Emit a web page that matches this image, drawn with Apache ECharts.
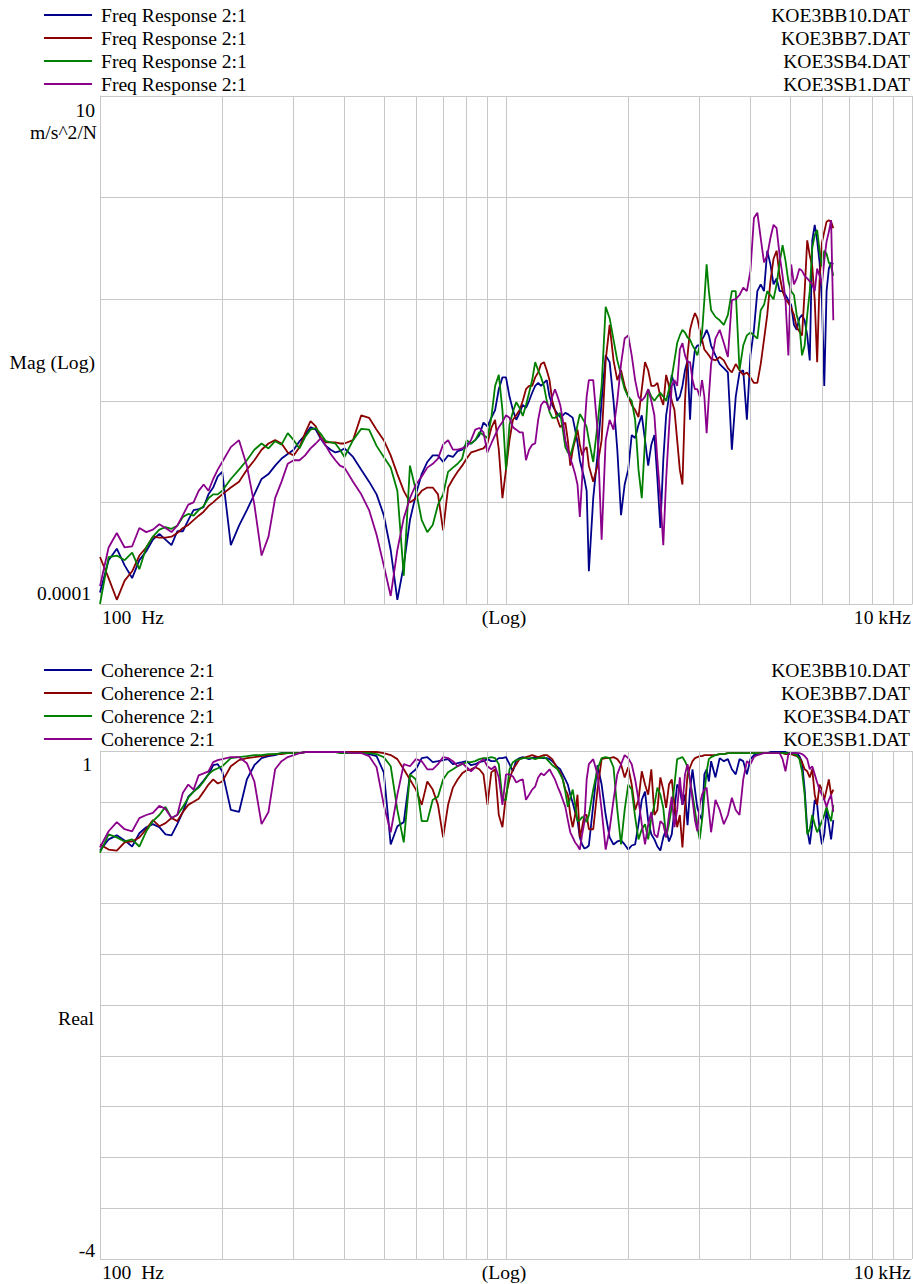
<!DOCTYPE html>
<html><head><meta charset="utf-8">
<script src="https://cdn.jsdelivr.net/npm/echarts@6/dist/echarts.min.js"></script>
<style>html,body{margin:0;padding:0;background:#fff}#c{width:913px;height:1284px}</style>
</head><body><div id="c"></div>
<script>
const freqs = [100,105,110,115,120,125,130,135,140,145,150,155,160,165,170,175,180,185,190,195,
200,210,220,230,240,250,260,270,280,290,300,310,320,330,340,350,360,370,380,390,
400,420,440,460,480,500,520,540,560,580,600,620,640,660,680,700,720,740,760,780,
800,820,840,860,880,900,920,940,960,980,1000,1020,1040,1060,1080,1100,1120,1140,1160,1180,
1200,1220,1240,1260,1280,1300,1320,1340,1360,1380,1400,1420,1440,1460,1480,1500,1520,1540,1560,1580,
1600,1640,1680,1720,1760,1800,1840,1880,1920,1960,2000,2040,2080,2120,2160,2200,2240,2280,2320,2360,
2400,2440,2480,2520,2560,2600,2640,2680,2720,2760,2800,2840,2880,2920,2960,3000,3040,3080,3120,3160,
3200,3280,3360,3440,3520,3600,3680,3760,3840,3920,4000,4080,4160,4240,4320,4400,4480,4560,4640,4720,
4800,4880,4960,5040,5120,5200,5280,5360,5440,5520,5600,5680,5760,5840,5920,6000,6080,6160,6240,6320,
6400];

const magBB10 = [
1.3e-4,2.7e-4,3.5e-4,2.4e-4,1.8e-4,2.7e-4,3.3e-4,4.3e-4,4.9e-4,4.3e-4,
3.8e-4,5.2e-4,5.2e-4,6.7e-4,8.4e-4,8.6e-4,9.0e-4,1.2e-3,1.4e-3,1.8e-3,
2.0e-3,3.8e-4,5.9e-4,8.4e-4,1.2e-3,1.7e-3,1.9e-3,2.3e-3,2.7e-3,3.0e-3,
3.3e-3,4.0e-3,4.6e-3,5.5e-3,5.2e-3,4.2e-3,3.6e-3,3.3e-3,3.1e-3,3.2e-3,
3.4e-3,2.8e-3,2.1e-3,1.6e-3,1.2e-3,7.5e-4,3.4e-4,1.1e-4,2.4e-4,6.7e-4,
1.2e-3,1.9e-3,2.5e-3,2.9e-3,2.9e-3,2.5e-3,2.9e-3,2.8e-3,3.2e-3,3.3e-3,
3.8e-3,3.8e-3,4.1e-3,4.6e-3,6.1e-3,5.6e-3,6.8e-3,8.1e-3,1.3e-2,1.7e-2,
1.7e-2,1.1e-2,8.1e-3,6.5e-3,7.6e-3,9.1e-3,8.5e-3,1.0e-2,1.2e-2,1.4e-2,
1.5e-2,1.4e-2,1.5e-2,1.6e-2,1.1e-2,9.1e-3,8.1e-3,7.4e-3,6.9e-3,7.2e-3,
7.6e-3,7.4e-3,7.1e-3,6.8e-3,5.2e-3,3.9e-3,2.6e-3,2.1e-3,1.7e-3,1.3e-3,
2.1e-4,1.1e-3,2.9e-3,1.0e-2,2.8e-2,2.4e-2,1.0e-2,3.3e-3,7.5e-4,1.5e-3,
2.1e-3,4.6e-3,4.3e-3,5.8e-3,7.2e-3,4.1e-3,2.3e-3,3.7e-3,4.6e-3,1.7e-3,
5.6e-4,2.6e-3,7.2e-3,1.1e-2,1.8e-2,1.4e-2,1.0e-2,1.1e-2,1.4e-2,2.0e-2,
2.5e-2,6.5e-3,2.0e-2,3.2e-2,3.5e-2,3.5e-2,4.0e-2,4.4e-2,5.0e-2,4.4e-2,
3.5e-2,2.8e-2,2.3e-2,2.1e-2,1.9e-2,3.3e-3,1.1e-2,1.9e-2,2.0e-2,6.5e-3,
2.8e-2,5.0e-2,0.12,0.14,0.12,0.30,0.22,0.14,0.16,0.12,
0.12,0.11,9.8e-2,8.8e-2,5.6e-2,5.0e-2,6.5e-2,7.0e-2,6.2e-2,4.4e-2,
2.5e-2,0.38,0.54,0.38,0.23,9.8e-2,1.4e-2,0.12,0.20,0.23,
0.22];

const magBB7 = [
2.9e-4,1.8e-4,1.1e-4,1.7e-4,2.1e-4,3.0e-4,3.6e-4,4.6e-4,4.5e-4,4.5e-4,
4.6e-4,5.0e-4,5.6e-4,6.0e-4,6.7e-4,7.4e-4,8.1e-4,9.2e-4,1.0e-3,1.1e-3,
1.2e-3,1.4e-3,1.6e-3,2.1e-3,2.6e-3,3.3e-3,3.8e-3,4.1e-3,3.8e-3,3.1e-3,
2.9e-3,3.5e-3,4.8e-3,6.3e-3,5.6e-3,4.3e-3,3.9e-3,3.9e-3,3.9e-3,3.8e-3,
3.8e-3,4.1e-3,7.2e-3,6.8e-3,5.2e-3,4.1e-3,2.9e-3,1.9e-3,1.3e-3,1.0e-3,
1.1e-3,1.3e-3,1.4e-3,1.4e-3,1.2e-3,5.3e-4,1.4e-3,1.7e-3,2.0e-3,2.3e-3,
2.7e-3,3.1e-3,3.2e-3,3.3e-3,3.4e-3,3.8e-3,5.4e-3,6.5e-3,3.3e-3,1.1e-3,
2.1e-3,4.1e-3,6.5e-3,7.2e-3,8.1e-3,1.0e-2,1.3e-2,1.4e-2,1.4e-2,1.7e-2,
1.9e-2,2.3e-2,2.4e-2,2.0e-2,1.6e-2,1.0e-2,8.1e-3,6.5e-3,5.5e-3,5.8e-3,
6.1e-3,4.1e-3,2.3e-3,3.3e-3,4.1e-3,5.2e-3,3.7e-3,2.9e-3,3.3e-3,3.5e-3,
2.3e-3,1.6e-3,2.3e-3,4.1e-3,2.5e-2,5.6e-2,2.5e-2,1.6e-2,2.0e-2,1.4e-2,
1.1e-2,9.1e-3,8.1e-3,6.9e-3,1.3e-2,2.4e-2,2.0e-2,1.4e-2,1.4e-2,1.5e-2,
1.1e-2,9.1e-3,1.8e-2,1.4e-2,1.0e-2,8.1e-3,4.1e-3,2.1e-3,1.5e-3,1.0e-2,
2.8e-2,5.0e-2,6.2e-2,7.3e-2,6.5e-2,5.0e-2,4.0e-2,3.2e-2,3.0e-2,2.8e-2,
2.6e-2,2.5e-2,2.7e-2,2.5e-2,2.1e-2,1.9e-2,2.3e-2,2.0e-2,1.8e-2,1.9e-2,
1.7e-2,1.5e-2,1.5e-2,2.3e-2,4.0e-2,7.0e-2,0.15,0.25,0.30,0.17,
0.12,0.10,9.2e-2,8.2e-2,7.0e-2,5.3e-2,4.8e-2,4.4e-2,0.12,0.38,
0.27,0.21,9.8e-2,2.4e-2,0.15,0.36,0.46,0.58,0.60,0.58,
0.50];

const magSB4 = [
1.0e-4,2.9e-4,3.0e-4,2.7e-4,3.2e-4,2.2e-4,3.6e-4,4.6e-4,5.4e-4,5.7e-4,
5.5e-4,5.9e-4,7.2e-4,7.7e-4,7.4e-4,8.4e-4,9.2e-4,1.1e-3,1.2e-3,1.2e-3,
1.3e-3,1.7e-3,2.1e-3,2.6e-3,3.3e-3,3.8e-3,3.4e-3,4.0e-3,3.7e-3,4.8e-3,
4.1e-3,3.4e-3,4.4e-3,5.2e-3,5.4e-3,4.7e-3,4.0e-3,3.9e-3,3.8e-3,3.3e-3,
2.8e-3,4.1e-3,5.3e-3,5.2e-3,3.6e-3,2.8e-3,2.2e-3,1.3e-3,1.9e-4,2.3e-3,
1.3e-3,6.7e-4,5.1e-4,6.0e-4,9.5e-4,1.2e-3,2.0e-3,2.2e-3,2.4e-3,2.7e-3,
4.1e-3,3.8e-3,4.1e-3,4.9e-3,4.6e-3,4.3e-3,6.8e-3,1.4e-2,1.8e-2,8.1e-3,
2.1e-3,5.8e-3,7.8e-3,9.7e-3,8.5e-3,7.1e-3,9.1e-3,1.2e-2,1.6e-2,2.4e-2,
2.0e-2,1.7e-2,1.4e-2,1.0e-2,7.8e-3,6.8e-3,6.8e-3,7.2e-3,7.6e-3,5.2e-3,
3.5e-3,3.1e-3,2.9e-3,3.5e-3,4.4e-3,5.8e-3,7.4e-3,6.8e-3,6.2e-3,5.5e-3,
4.1e-3,2.5e-3,5.8e-3,1.4e-2,8.4e-2,6.5e-2,4.0e-2,2.5e-2,1.8e-2,1.3e-2,
1.1e-2,1.0e-2,6.5e-3,2.1e-3,1.1e-3,4.1e-3,1.3e-2,1.1e-2,1.0e-2,1.1e-2,
1.2e-2,1.1e-2,1.0e-2,1.3e-2,1.7e-2,2.5e-2,3.7e-2,4.4e-2,5.0e-2,4.7e-2,
4.2e-2,4.0e-2,3.5e-2,3.2e-2,2.8e-2,3.5e-2,4.7e-2,9.8e-2,0.22,0.12,
7.8e-2,6.7e-2,6.2e-2,5.6e-2,7.0e-2,0.12,0.12,2.0e-2,3.5e-2,4.4e-2,
4.7e-2,4.4e-2,4.1e-2,7.8e-2,8.8e-2,0.12,0.11,0.10,0.14,0.23,
0.34,0.24,0.15,0.12,0.11,7.0e-2,5.6e-2,2.8e-2,3.5e-2,7.0e-2,
0.12,0.32,0.43,0.48,0.30,0.21,0.30,0.28,0.23,0.21,
0.17];

const magSB1 = [
1.5e-4,3.6e-4,5.0e-4,3.6e-4,3.7e-4,5.6e-4,5.1e-4,5.4e-4,6.1e-4,5.6e-4,
5.1e-4,5.9e-4,7.5e-4,9.5e-4,1.0e-3,1.3e-3,1.5e-3,1.3e-3,1.7e-3,2.1e-3,
2.5e-3,3.5e-3,4.1e-3,2.3e-3,9.5e-4,3.0e-4,4.6e-4,1.1e-3,1.6e-3,2.4e-3,
2.6e-3,2.6e-3,2.9e-3,3.4e-3,3.8e-3,4.3e-3,3.6e-3,3.0e-3,2.6e-3,2.3e-3,
2.2e-3,1.6e-3,1.2e-3,8.4e-4,4.8e-4,2.4e-4,1.2e-4,3.4e-4,7.0e-4,1.1e-3,
1.5e-3,1.8e-3,2.2e-3,2.4e-3,2.7e-3,3.7e-3,4.1e-3,3.3e-3,3.3e-3,3.4e-3,
3.5e-3,4.1e-3,5.2e-3,5.4e-3,4.9e-3,3.1e-3,3.8e-3,4.6e-3,5.5e-3,6.2e-3,
7.2e-3,6.8e-3,5.5e-3,5.2e-3,4.9e-3,4.9e-3,2.6e-3,3.3e-3,3.7e-3,3.8e-3,
6.5e-3,9.1e-3,9.9e-3,9.5e-3,8.1e-3,1.1e-2,1.3e-2,1.1e-2,9.1e-3,6.5e-3,
4.1e-3,3.3e-3,2.7e-3,2.3e-3,1.9e-3,1.5e-3,7.2e-4,1.7e-3,5.2e-3,1.1e-2,
1.6e-2,1.6e-2,5.2e-3,4.3e-4,4.1e-3,6.5e-3,5.2e-3,1.0e-2,2.3e-2,4.1e-2,
4.4e-2,2.8e-2,1.6e-2,1.1e-2,1.0e-2,1.1e-2,1.3e-2,1.0e-2,7.2e-3,2.6e-3,
1.1e-3,3.8e-4,1.7e-3,5.2e-3,1.4e-2,1.6e-2,1.4e-2,3.2e-2,3.7e-2,2.8e-2,
2.4e-2,2.4e-2,1.6e-2,1.3e-2,1.3e-2,1.1e-2,1.6e-2,1.1e-2,4.8e-3,1.1e-2,
2.3e-2,4.1e-2,5.0e-2,3.7e-2,2.7e-2,9.8e-2,0.10,0.11,0.13,0.12,
0.19,0.63,0.71,0.40,0.23,0.27,0.40,0.54,0.50,0.27,
0.17,9.8e-2,2.8e-2,0.22,0.14,0.16,0.20,0.19,0.17,0.16,
0.15,0.14,0.12,0.20,0.17,0.14,0.24,0.37,0.46,0.60,
6.2e-2];

const cohBB10 = [
0.02,0.13,0.17,0.12,0.06,0.19,0.25,0.28,0.25,0.18,
0.17,0.28,0.40,0.55,0.60,0.65,0.71,0.77,0.86,0.87,
0.80,0.42,0.40,0.72,0.86,0.93,0.95,0.96,0.98,0.98,
0.98,0.98,0.99,0.99,0.99,0.99,0.99,0.99,0.99,0.99,
0.99,0.99,0.98,0.97,0.95,0.79,0.08,0.26,0.30,0.77,
0.82,0.93,0.94,0.89,0.90,0.91,0.92,0.87,0.88,0.89,
0.90,0.86,0.87,0.89,0.90,0.92,0.90,0.90,0.93,0.93,
0.94,0.87,0.80,0.91,0.93,0.94,0.93,0.92,0.93,0.94,
0.94,0.93,0.93,0.93,0.92,0.90,0.87,0.84,0.82,0.77,
0.72,0.67,0.57,0.49,0.40,0.32,0.15,0.08,0.04,0.05,
0.07,0.47,0.86,0.67,0.37,0.15,0.08,0.11,0.12,0.08,
0.03,0.07,0.08,0.28,0.52,0.60,0.31,0.18,0.13,0.06,
0.02,0.15,0.23,0.11,0.18,0.42,0.67,0.62,0.47,0.57,
0.27,0.62,0.82,0.62,0.44,0.37,0.32,0.77,0.82,0.70,
0.90,0.74,0.93,0.90,0.92,0.82,0.77,0.92,0.90,0.77,
0.92,0.96,0.97,0.98,0.98,0.98,0.99,0.99,0.99,0.99,
0.99,0.99,0.98,0.98,0.98,0.98,0.95,0.89,0.62,0.23,
0.08,0.28,0.52,0.47,0.23,0.08,0.18,0.42,0.28,0.13,
0.32];

const cohBB7 = [
0.08,0.03,0.02,0.10,0.11,0.15,0.23,0.32,0.26,0.29,
0.34,0.31,0.40,0.47,0.50,0.53,0.60,0.67,0.72,0.68,
0.70,0.85,0.91,0.93,0.94,0.95,0.96,0.97,0.97,0.98,
0.98,0.98,0.99,0.99,0.99,0.99,0.99,0.99,0.99,0.99,
0.99,0.99,0.99,0.99,0.99,0.98,0.96,0.92,0.82,0.72,
0.62,0.47,0.70,0.62,0.47,0.15,0.47,0.64,0.72,0.78,
0.81,0.82,0.84,0.82,0.77,0.47,0.79,0.82,0.37,0.25,
0.57,0.72,0.82,0.87,0.92,0.93,0.94,0.95,0.96,0.95,
0.94,0.95,0.96,0.96,0.94,0.92,0.87,0.82,0.79,0.72,
0.62,0.57,0.37,0.25,0.37,0.57,0.15,0.25,0.37,0.37,
0.23,0.23,0.62,0.92,0.93,0.93,0.94,0.92,0.87,0.74,
0.84,0.67,0.42,0.52,0.80,0.67,0.57,0.82,0.37,0.42,
0.74,0.62,0.44,0.67,0.72,0.47,0.25,0.37,0.05,0.45,
0.77,0.84,0.90,0.93,0.94,0.95,0.95,0.96,0.96,0.96,
0.96,0.96,0.97,0.97,0.98,0.98,0.98,0.98,0.98,0.98,
0.98,0.98,0.98,0.98,0.98,0.98,0.98,0.98,0.98,0.98,
0.98,0.97,0.97,0.97,0.96,0.95,0.93,0.89,0.82,0.80,
0.74,0.82,0.57,0.47,0.67,0.62,0.52,0.62,0.72,0.57,
0.62];

const cohSB4 = [
0.00,0.18,0.15,0.11,0.13,0.06,0.21,0.31,0.37,0.45,
0.34,0.37,0.45,0.54,0.60,0.64,0.70,0.77,0.81,0.83,
0.85,0.93,0.94,0.95,0.96,0.96,0.97,0.97,0.98,0.98,
0.98,0.98,0.99,0.99,0.99,0.99,0.99,0.99,0.99,0.98,
0.98,0.98,0.98,0.98,0.97,0.94,0.85,0.42,0.10,0.77,
0.72,0.31,0.31,0.52,0.55,0.72,0.79,0.82,0.85,0.87,
0.89,0.89,0.90,0.92,0.93,0.93,0.94,0.93,0.87,0.52,
0.52,0.82,0.89,0.91,0.92,0.93,0.93,0.93,0.93,0.92,
0.93,0.93,0.94,0.92,0.89,0.86,0.84,0.82,0.77,0.72,
0.60,0.45,0.54,0.62,0.47,0.31,0.32,0.35,0.34,0.30,
0.37,0.62,0.82,0.93,0.94,0.93,0.84,0.42,0.08,0.42,
0.67,0.62,0.35,0.13,0.23,0.28,0.13,0.34,0.47,0.64,
0.57,0.44,0.15,0.28,0.45,0.67,0.92,0.93,0.94,0.90,
0.84,0.70,0.57,0.42,0.25,0.13,0.32,0.57,0.80,0.92,
0.94,0.96,0.97,0.97,0.98,0.98,0.98,0.98,0.98,0.98,
0.98,0.98,0.98,0.98,0.98,0.98,0.98,0.98,0.98,0.98,
0.98,0.98,0.98,0.98,0.97,0.96,0.92,0.80,0.57,0.18,
0.23,0.37,0.28,0.20,0.25,0.31,0.37,0.45,0.37,0.31,
0.47];

const cohSB1 = [
0.05,0.21,0.30,0.23,0.21,0.34,0.37,0.39,0.46,0.43,
0.34,0.37,0.59,0.67,0.62,0.76,0.78,0.80,0.89,0.91,
0.92,0.94,0.94,0.88,0.70,0.28,0.40,0.82,0.90,0.94,
0.96,0.98,0.99,0.99,0.99,0.99,0.99,0.99,0.99,0.99,
0.99,0.98,0.98,0.95,0.84,0.47,0.20,0.57,0.87,0.85,
0.92,0.90,0.82,0.82,0.87,0.94,0.93,0.90,0.85,0.88,
0.84,0.80,0.84,0.89,0.92,0.85,0.82,0.85,0.74,0.47,
0.77,0.77,0.75,0.69,0.71,0.72,0.52,0.57,0.62,0.65,
0.74,0.78,0.76,0.79,0.82,0.77,0.72,0.65,0.59,0.52,
0.45,0.32,0.20,0.15,0.10,0.07,0.03,0.18,0.30,0.72,
0.87,0.92,0.77,0.42,0.03,0.23,0.52,0.77,0.87,0.96,
0.93,0.87,0.72,0.52,0.28,0.08,0.28,0.40,0.18,0.15,
0.31,0.28,0.15,0.37,0.55,0.25,0.42,0.74,0.47,0.77,
0.87,0.72,0.52,0.32,0.21,0.47,0.57,0.62,0.64,0.42,
0.20,0.52,0.42,0.28,0.37,0.54,0.42,0.37,0.72,0.90,
0.87,0.94,0.96,0.97,0.98,0.98,0.98,0.98,0.98,0.98,
0.92,0.80,0.97,0.98,0.98,0.98,0.98,0.97,0.95,0.92,
0.82,0.85,0.77,0.69,0.62,0.57,0.52,0.45,0.52,0.57,
0.40];

const fileNames = ['KOE3BB10.DAT','KOE3BB7.DAT','KOE3SB4.DAT','KOE3SB1.DAT'];
const topLegendLabel = 'Freq Response 2:1';
const bottomLegendLabel = 'Coherence 2:1';
const minorFreqs = [200,300,400,500,600,700,800,900,2000,3000,4000,5000,6000,7000,8000,9000];
const magMin = 0.0001, magMax = 10;
const cohMin = -4, cohMax = 1, cohStep = 0.5;

const COLORS = ['#00008b','#8b0000','#008000','#8b008b'];
const GRID = '#c8c8c8';
const FONT = '19.6px "Liberation Serif", "Times New Roman", serif';

const chart = echarts.init(document.getElementById('c'), null, {renderer:'svg', width:913, height:1284});

function pairs(vals){ return freqs.map((f,i)=>[f, vals[i]]); }
function dataSeries(name, vals, color, xi){
  return {type:'line', name, xAxisIndex:xi, yAxisIndex:xi, data:pairs(vals),
    symbol:'none', showSymbol:false, clip:true, z:3, silent:true,
    lineStyle:{color, width:1.8}, itemStyle:{color}, emphasis:{disabled:true}};
}
function gridSeries(xi){
  return {type:'line', xAxisIndex:xi, yAxisIndex:xi, data:[], z:1, silent:true,
    markLine:{silent:true, symbol:['none','none'], label:{show:false}, animation:false,
      emphasis:{disabled:true},
      lineStyle:{color:GRID, width:1, type:'solid'},
      data: minorFreqs.map(f=>({xAxis:f}))}};
}
function T(text, x, y, align){
  return {type:'text', x, y, silent:true, z:10,
    style:{text, font:FONT, fill:'#000', textAlign:align||'left', align:align||'left',
      textVerticalAlign:'middle', verticalAlign:'middle'}};
}
function L(y, color){
  return {type:'line', silent:true, z:10, shape:{x1:44,y1:y,x2:92,y2:y}, style:{stroke:color, lineWidth:1.8}};
}

const graphics = [];
const topRows = [15,38,61,84], botRows = [670,693,716,739];
for (let i=0;i<4;i++){
  graphics.push(L(topRows[i], COLORS[i]), T(topLegendLabel, 101, topRows[i]), T(fileNames[i], 910, topRows[i], 'right'));
  graphics.push(L(botRows[i], COLORS[i]), T(bottomLegendLabel, 101, botRows[i]), T(fileNames[i], 910, botRows[i], 'right'));
}
graphics.push(
  T('10', 95, 110, 'right'), T('m/s^2/N', 97, 132, 'right'), T('Mag (Log)', 95, 362, 'right'),
  T('0.0001', 91, 593, 'right'),
  T('100\u00a0\u00a0Hz', 102, 617), T('(Log)', 504, 617, 'center'), T('10 kHz', 911, 617, 'right'),
  T('1', 92, 764, 'right'), T('Real', 94, 1018, 'right'), T('-4', 95, 1250, 'right'),
  T('100\u00a0\u00a0Hz', 102, 1272), T('(Log)', 504, 1272, 'center'), T('10 kHz', 911, 1272, 'right')
);

const axisCommon = {axisTick:{show:false}, axisLabel:{show:false},
  axisLine:{show:true, lineStyle:{color:GRID, width:1}},
  splitLine:{show:true, lineStyle:{color:GRID, width:1, type:'solid'}}};

chart.setOption({
  animation:false,
  backgroundColor:'#fff',
  grid:[
    {left:100, top:96, width:812, height:508, containLabel:false, show:false},
    {left:100, top:751, width:812, height:508, containLabel:false, show:false}
  ],
  xAxis:[
    Object.assign({type:'log', logBase:10, gridIndex:0, min:100, max:10000}, axisCommon),
    Object.assign({type:'log', logBase:10, gridIndex:1, min:100, max:10000}, axisCommon)
  ],
  yAxis:[
    Object.assign({type:'log', logBase:10, gridIndex:0, min:magMin, max:magMax}, axisCommon),
    Object.assign({type:'value', gridIndex:1, min:cohMin, max:cohMax, interval:cohStep}, axisCommon)
  ],
  series:[
    gridSeries(0), gridSeries(1),
    dataSeries(fileNames[0], magBB10, COLORS[0], 0),
    dataSeries(fileNames[1], magBB7, COLORS[1], 0),
    dataSeries(fileNames[2], magSB4, COLORS[2], 0),
    dataSeries(fileNames[3], magSB1, COLORS[3], 0),
    dataSeries(fileNames[0], cohBB10, COLORS[0], 1),
    dataSeries(fileNames[1], cohBB7, COLORS[1], 1),
    dataSeries(fileNames[2], cohSB4, COLORS[2], 1),
    dataSeries(fileNames[3], cohSB1, COLORS[3], 1)
  ],
  graphic: graphics
});
</script>
</body></html>
